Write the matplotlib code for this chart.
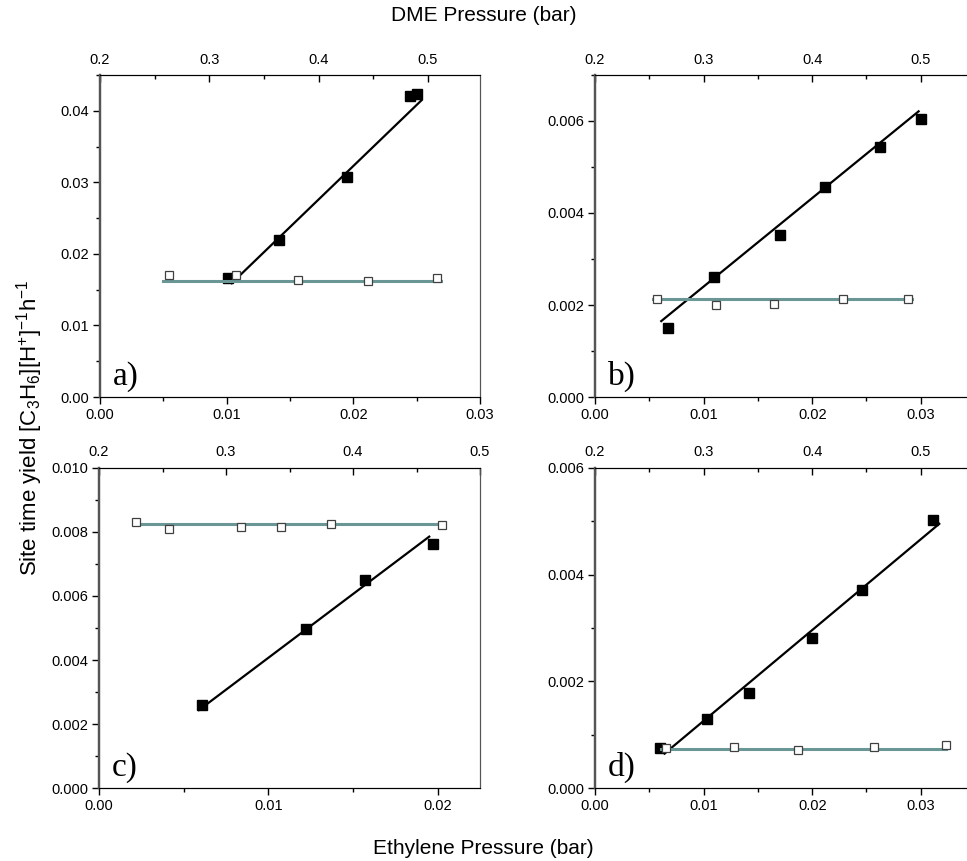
import matplotlib
matplotlib.use('Agg')
import matplotlib.pyplot as plt
from matplotlib.ticker import MultipleLocator, FormatStrFormatter

plt.rcParams['font.family'] = ['Liberation Sans', 'DejaVu Sans']
plt.rcParams['mathtext.default'] = 'regular'

# ── data ──
# filled squares: rate vs ethylene pressure (bottom axis)
eth_a = [0.0101, 0.0141, 0.0195, 0.0245, 0.0250]
rate_eth_a = [0.0167, 0.0220, 0.0307, 0.0421, 0.0424]
eth_b = [0.0067, 0.0110, 0.0170, 0.0212, 0.0262, 0.0300]
rate_eth_b = [0.00151, 0.00260, 0.00353, 0.00457, 0.00544, 0.00605]
eth_c = [0.0061, 0.0122, 0.0157, 0.0197]
rate_eth_c = [0.00260, 0.00498, 0.00650, 0.00762]
eth_d = [0.0060, 0.0103, 0.0142, 0.0200, 0.0246, 0.0311]
rate_eth_d = [0.00075, 0.00130, 0.00178, 0.00281, 0.00371, 0.00502]

# open squares: rate vs DME pressure (top axis)
dme_a = [0.263, 0.324, 0.381, 0.445, 0.508]
rate_dme_a = [0.0170, 0.0170, 0.0164, 0.0162, 0.0166]
dme_b = [0.257, 0.311, 0.365, 0.428, 0.488]
rate_dme_b = [0.00212, 0.00201, 0.00203, 0.00214, 0.00212]
dme_c = [0.229, 0.255, 0.312, 0.343, 0.383, 0.470]
rate_dme_c = [0.00830, 0.00809, 0.00816, 0.00814, 0.00824, 0.00820]
dme_d = [0.265, 0.328, 0.387, 0.457, 0.523]
rate_dme_d = [0.00075, 0.00077, 0.00072, 0.00077, 0.00081]

# fitted lines (end points)
fit_eth_a, fit_rate_a = [0.0104, 0.0254], [0.0159, 0.0415]
fit_eth_b, fit_rate_b = [0.0061, 0.0298], [0.00165, 0.00621]
fit_eth_c, fit_rate_c = [0.0059, 0.0195], [0.00244, 0.00785]
fit_eth_d, fit_rate_d = [0.0064, 0.0317], [0.00065, 0.00495]
fit_dme_a, fit_flat_a = [0.258, 0.512], [0.01622, 0.01622]
fit_dme_b, fit_flat_b = [0.253, 0.492], [0.00212, 0.00212]
fit_dme_c, fit_flat_c = [0.229, 0.470], [0.00823, 0.00823]
fit_dme_d, fit_flat_d = [0.261, 0.523], [0.00074, 0.00074]

panels = [
    dict(tag='a)', pos=[0.1034, 0.5389, 0.3930, 0.3740], xlim=(0, 0.03), tlim=(0.2, 0.5477),
         ylim=(0, 0.045), ymaj=0.01, ymin=0.005, yfmt='%.2f',
         eth=eth_a, r1=rate_eth_a, dme=dme_a, r2=rate_dme_a,
         fx=fit_eth_a, fy=fit_rate_a, tx=fit_dme_a, ty=fit_flat_a),
    dict(tag='b)', pos=[0.6153, 0.5389, 0.4043, 0.3740], xlim=(0, 0.036), tlim=(0.2, 0.56),
         ylim=(0, 0.007), ymaj=0.002, ymin=0.001, yfmt='%.3f',
         eth=eth_b, r1=rate_eth_b, dme=dme_b, r2=rate_dme_b,
         fx=fit_eth_b, fy=fit_rate_b, tx=fit_dme_b, ty=fit_flat_b),
    dict(tag='c)', pos=[0.1024, 0.0844, 0.3940, 0.3724], xlim=(0, 0.0225), tlim=(0.2, 0.5),
         ylim=(0, 0.010), ymaj=0.002, ymin=0.001, yfmt='%.3f',
         eth=eth_c, r1=rate_eth_c, dme=dme_c, r2=rate_dme_c,
         fx=fit_eth_c, fy=fit_rate_c, tx=fit_dme_c, ty=fit_flat_c),
    dict(tag='d)', pos=[0.6153, 0.0844, 0.4043, 0.3724], xlim=(0, 0.036), tlim=(0.2, 0.56),
         ylim=(0, 0.006), ymaj=0.002, ymin=0.001, yfmt='%.3f',
         eth=eth_d, r1=rate_eth_d, dme=dme_d, r2=rate_dme_d,
         fx=fit_eth_d, fy=fit_rate_d, tx=fit_dme_d, ty=fit_flat_d),
]

teal = '#6b9696'
fig = plt.figure(figsize=(9.67, 8.61), dpi=100)

for p in panels:
    ax = fig.add_axes(p['pos'])
    ax.plot(p['fx'], p['fy'], color='black', lw=1.6, zorder=2)
    ax.plot(p['eth'], p['r1'], 's', color='black', ms=6.5, zorder=3)
    ax.set_xlim(*p['xlim'])
    ax.set_ylim(*p['ylim'])
    ax.xaxis.set_major_locator(MultipleLocator(0.01))
    ax.xaxis.set_minor_locator(MultipleLocator(0.005))
    ax.xaxis.set_major_formatter(FormatStrFormatter('%.2f'))
    ax.yaxis.set_major_locator(MultipleLocator(p['ymaj']))
    ax.yaxis.set_minor_locator(MultipleLocator(p['ymin']))
    ax.yaxis.set_major_formatter(FormatStrFormatter(p['yfmt']))
    ax.tick_params(which='both', direction='out', labelsize=10.5, top=False, right=False, pad=3)
    ax.tick_params(which='major', length=5, width=1)
    ax.tick_params(which='minor', length=3, width=1)
    ax.spines['left'].set_color('#555555')
    ax.spines['left'].set_linewidth(1.6)
    ax.spines['right'].set_color('#555555')

    ax2 = ax.twiny()
    ax2.plot(p['tx'], p['ty'], color=teal, lw=2.2, zorder=2)
    ax2.plot(p['dme'], p['r2'], 's', mfc='white', mec='#404040', mew=0.9, ms=6, zorder=3)
    ax2.set_xlim(*p['tlim'])
    ax2.xaxis.set_major_locator(MultipleLocator(0.1))
    ax2.xaxis.set_minor_locator(MultipleLocator(0.05))
    ax2.xaxis.set_major_formatter(FormatStrFormatter('%.1f'))
    ax2.tick_params(which='both', direction='in', labelsize=10.5, pad=6)
    ax2.tick_params(which='major', length=5, width=1)
    ax2.tick_params(which='minor', length=3, width=1)
    ax2.spines['left'].set_color('#555555')
    ax2.spines['left'].set_linewidth(1.6)
    ax2.spines['right'].set_color('#555555')

    ax2.annotate(p['tag'], xy=(0, 0), xycoords='axes fraction', xytext=(9, 9),
                 textcoords='offset points', fontsize=24, family='Liberation Serif',
                 ha='left', va='baseline')

fig.text(0.5, 0.982, 'DME Pressure (bar)', ha='center', va='center', fontsize=15)
fig.text(0.5, 0.015, 'Ethylene Pressure (bar)', ha='center', va='center', fontsize=15)
fig.text(0.031, 0.503, r'Site time yield [C$_3$H$_6$][H$^{+}$]$^{-1}$h$^{-1}$',
         rotation=90, ha='center', va='center', fontsize=16)

fig.savefig('out.png', dpi=100)
